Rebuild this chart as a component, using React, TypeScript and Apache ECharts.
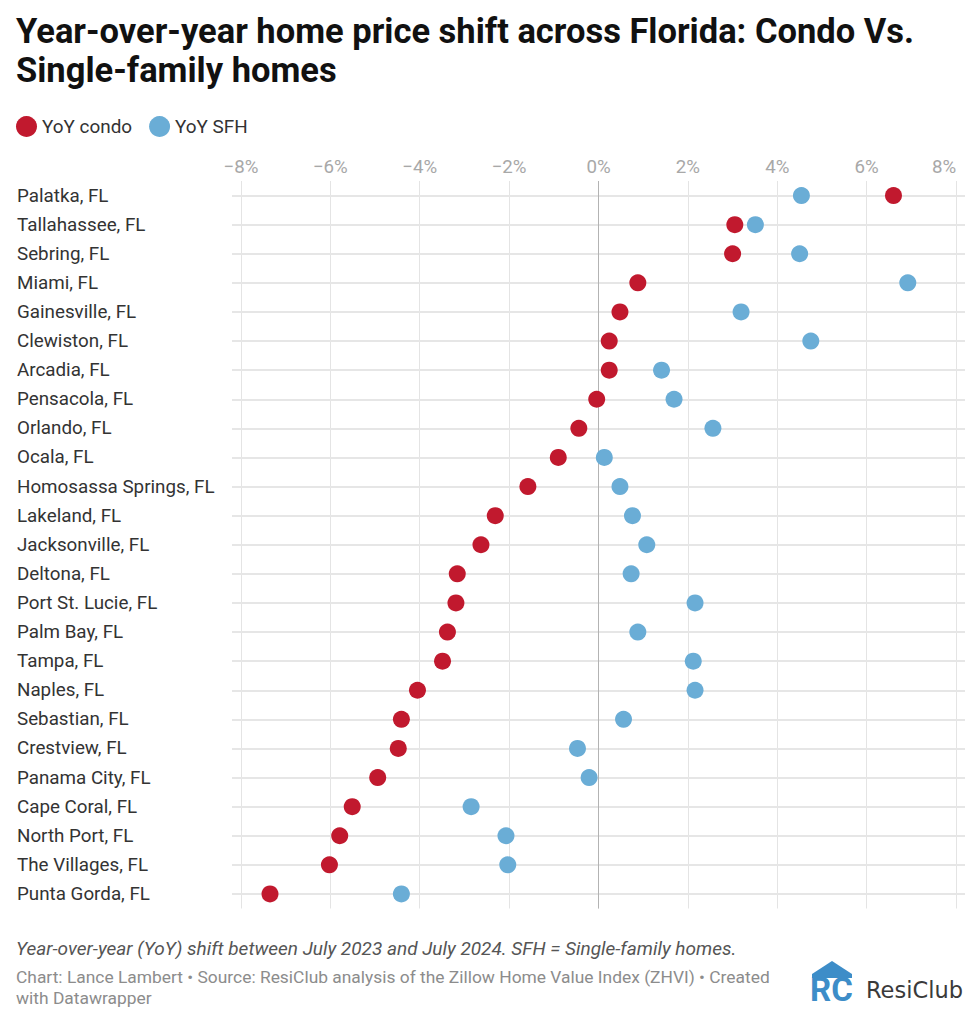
import React, { useEffect, useRef } from "react";
import * as echarts from "echarts";

const cities = [
  "Palatka, FL", "Tallahassee, FL", "Sebring, FL", "Miami, FL", "Gainesville, FL",
  "Clewiston, FL", "Arcadia, FL", "Pensacola, FL", "Orlando, FL", "Ocala, FL",
  "Homosassa Springs, FL", "Lakeland, FL", "Jacksonville, FL", "Deltona, FL",
  "Port St. Lucie, FL", "Palm Bay, FL", "Tampa, FL", "Naples, FL", "Sebastian, FL",
  "Crestview, FL", "Panama City, FL", "Cape Coral, FL", "North Port, FL",
  "The Villages, FL", "Punta Gorda, FL",
];
const condoYoY = [
  6.6, 3.05, 3.0, 0.88, 0.48, 0.24, 0.24, -0.04, -0.44, -0.9, -1.58, -2.31, -2.63,
  -3.16, -3.19, -3.38, -3.49, -4.05, -4.41, -4.48, -4.94, -5.51, -5.79, -6.02, -7.35,
];
const sfhYoY = [
  4.54, 3.51, 4.5, 6.92, 3.19, 4.75, 1.41, 1.69, 2.56, 0.13, 0.48, 0.76, 1.08,
  0.73, 2.16, 0.88, 2.12, 2.16, 0.56, -0.47, -0.21, -2.85, -2.07, -2.03, -4.41,
];
const xTicks = [-8, -6, -4, -2, 0, 2, 4, 6, 8];

const FONT = "Roboto, 'Noto Sans', sans-serif";
const CONDO = "#c1192e";
const SFH = "#6aadd6";

export default function App() {
  const ref = useRef<HTMLDivElement>(null);
  useEffect(() => {
    if (!ref.current) return;
    const chart = echarts.init(ref.current, undefined, { renderer: "svg" });
    const fmt = (v: number) => {
      const s = (v < 0 ? "\u2212" : "") + Math.abs(v) + "%";
      return v === xTicks[xTicks.length - 1] ? "{r|" + s + "}" : s;
    };
    chart.setOption({
      animation: false,
      backgroundColor: "#ffffff",
      textStyle: { fontFamily: FONT },
      title: {
        text: "Year-over-year home price shift across Florida: Condo Vs.\nSingle-family homes",
        left: 16,
        top: 11,
        padding: 0,
        textStyle: { fontSize: 34.5, fontWeight: "bold", color: "#111", lineHeight: 39, fontFamily: FONT },
      },
      legend: {
        left: 16,
        top: 116,
        padding: 0,
        icon: "circle",
        itemWidth: 21,
        itemHeight: 21,
        itemGap: 17,
        data: ["YoY condo", "YoY SFH"],
        textStyle: { fontSize: 18.9, color: "#333", fontFamily: FONT },
      },
      grid: { left: 232, right: 15, top: 181, bottom: 115.5 },
      xAxis: {
        type: "value",
        position: "top",
        min: -8.2,
        max: 8.2,
        axisLine: { show: false },
        axisTick: { show: false, customValues: xTicks },
        axisLabel: {
          customValues: xTicks,
          formatter: fmt,
          margin: 5,
          fontSize: 18.7,
          color: "#a8a8a8",
          fontFamily: FONT,
          rich: { r: { fontSize: 18.7, color: "#a8a8a8", fontFamily: FONT, padding: [0, 24, 0, 0] } },
        },
        splitLine: { show: true, lineStyle: { color: "#e4e4e4", width: 1 } },
      },
      yAxis: {
        type: "category",
        inverse: true,
        data: cities,
        axisLine: { show: false },
        axisTick: { show: false },
        splitLine: { show: false },
        axisLabel: { align: "left", margin: 215, fontSize: 18.8, color: "#333", fontFamily: FONT },
      },
      series: [
        {
          type: "scatter",
          name: "grid",
          data: [],
          silent: true,
          z: 1,
          markLine: {
            silent: true,
            z: 1,
            symbol: ["none", "none"],
            label: { show: false },
            lineStyle: { color: "#e6e6e6", width: 2, type: "solid" },
            data: [
              ...cities.map((c) => ({ yAxis: c })),
              { xAxis: 0, lineStyle: { color: "#b3b3b3", width: 1, type: "solid" } },
            ],
          },
        },
        {
          type: "scatter",
          name: "YoY condo",
          z: 3,
          symbolSize: 17,
          itemStyle: { color: CONDO, opacity: 1 },
          data: cities.map((c, i) => [condoYoY[i], c]),
        },
        {
          type: "scatter",
          name: "YoY SFH",
          z: 3,
          symbolSize: 17,
          itemStyle: { color: SFH, opacity: 1 },
          data: cities.map((c, i) => [sfhYoY[i], c]),
        },
      ],
      graphic: [
        {
          type: "text",
          x: 16,
          y: 948,
          style: {
            text: "Year-over-year (YoY) shift between July 2023 and July 2024. SFH = Single-family homes.",
            fontSize: 19,
            fontStyle: "italic",
            fontFamily: FONT,
            fill: "#555",
            verticalAlign: "middle",
          },
        },
        {
          type: "text",
          x: 16,
          y: 977,
          style: {
            text: "Chart: Lance Lambert \u2022 Source: ResiClub analysis of the Zillow Home Value Index (ZHVI) \u2022 Created",
            fontSize: 17.4,
            fontFamily: FONT,
            fill: "#8c8c8c",
            verticalAlign: "middle",
          },
        },
        {
          type: "text",
          x: 16,
          y: 998,
          style: {
            text: "with Datawrapper",
            fontSize: 17.4,
            fontFamily: FONT,
            fill: "#8c8c8c",
            verticalAlign: "middle",
          },
        },
        {
          type: "polygon",
          shape: { points: [[812, 974], [832, 961], [852, 974], [852, 978], [812, 978]] },
          style: { fill: "#3d8dc8" },
        },
        {
          type: "text",
          x: 810,
          y: 1006,
          style: {
            text: "RC",
            fontSize: 33,
            fontWeight: "bold",
            fontFamily: FONT,
            fill: "#3d8dc8",
            verticalAlign: "bottom",
          },
        },
        {
          type: "text",
          x: 866,
          y: 990,
          style: {
            text: "ResiClub",
            fontSize: 22.5,
            fontFamily: "'DejaVu Sans', sans-serif",
            fill: "#3a3a3a",
            verticalAlign: "middle",
          },
        },
      ],
    });
    return () => chart.dispose();
  }, []);
  return (
    <div
      ref={ref}
      style={{ position: "absolute", left: 0, top: 0, width: 980, height: 1024, background: "#fff" }}
    />
  );
}
